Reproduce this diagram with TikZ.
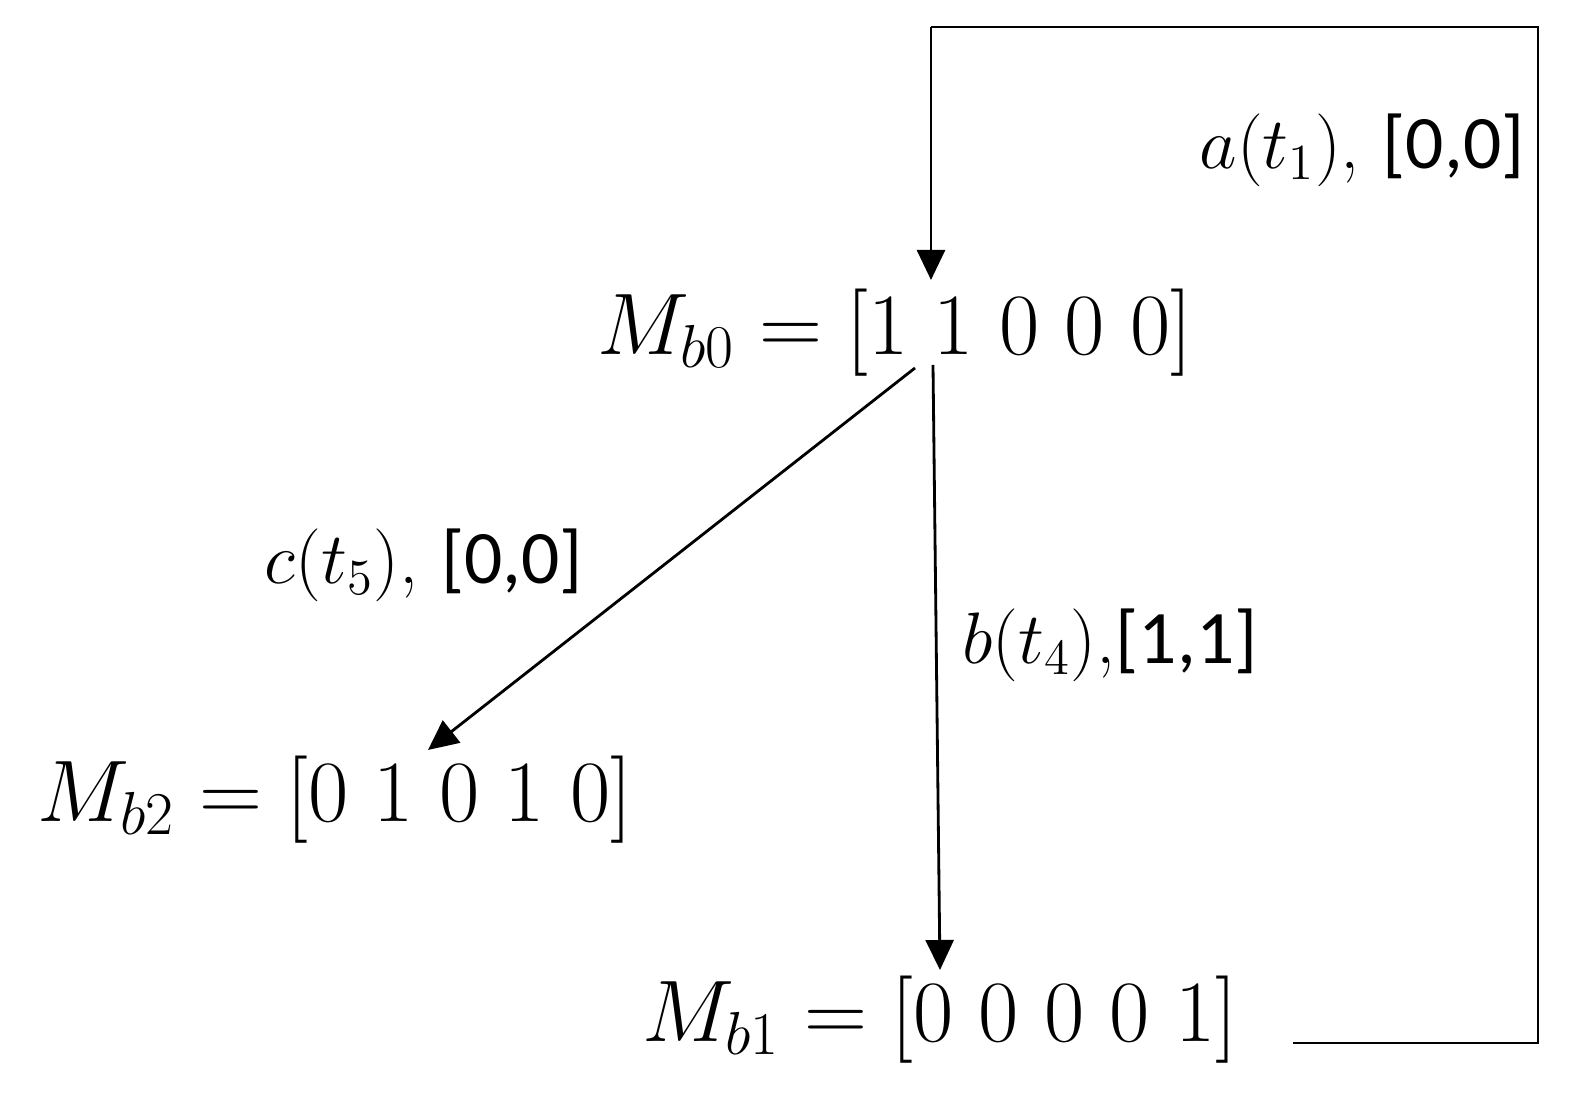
\documentclass[tikz,border=0pt]{standalone}
\usepackage{fontspec}
\newfontfamily\calib{Carlito}
\usetikzlibrary{arrows.meta,calc}
\begin{document}
\begin{tikzpicture}[x=1cm,y=1cm,
  state/.style={inner sep=0pt, font=\fontsize{24}{29}\selectfont},
  lbl/.style={inner sep=0pt, font=\fontsize{21.5}{26}\selectfont},
  conn/.style={line width=0.8pt, -{Triangle[length=0.3cm,width=0.28cm]}},
  plain/.style={line width=0.8pt}]
\useasboundingbox (0,0) rectangle (15.93,11);
\node[state] (m0) at (8.95,7.67) {$M_{b0} = [1\ 1\ 0\ 0\ 0]$};
\node[state] (m2) at (3.35,3.0) {$M_{b2} = [0\ 1\ 0\ 1\ 0]$};
\node[state] (m1) at (9.40,0.8) {$M_{b1} = [0\ 0\ 0\ 0\ 1]$};
\node[lbl] (la) at (13.62,9.5) {$a(t_1)$, {\calib [0,0]}};
\node[lbl] (lc) at (4.24,5.35) {$c(t_5)$, {\calib [0,0]}};
\node[lbl] (lb) at (11.1,4.55) {$b(t_4)$,{\calib [1,1]}};
\coordinate (s1) at (12.93,0.57);
\coordinate (c1) at (15.38,0.57);
\coordinate (c2) at (15.38,10.73);
\coordinate (c3) at (9.31,10.73);
\coordinate (t0) at (9.31,8.2);
\coordinate (b0) at (9.33,7.35);
\coordinate (b1) at (9.40,1.3);
\coordinate (cs) at (9.15,7.32);
\coordinate (ce) at (4.28,3.5);
\draw[plain] (s1) -- (c1) -- (c2) -- (c3);
\draw[conn] (c3) -- (t0);
\draw[conn] (b0) -- (b1);
\draw[conn] (cs) -- (ce);
\end{tikzpicture}
\end{document}
